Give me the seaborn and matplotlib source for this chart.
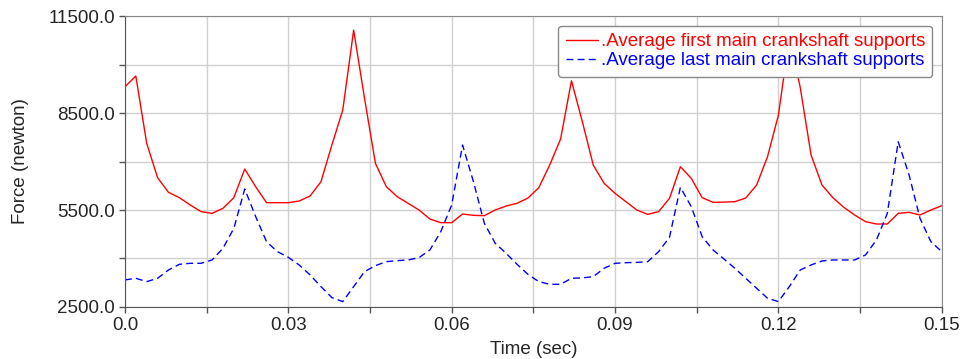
import numpy as np
import pandas as pd
import matplotlib
matplotlib.use("Agg")
import matplotlib.pyplot as plt
import seaborn as sns
from matplotlib.ticker import FixedLocator, FormatStrFormatter

# time samples (sec), every 0.002 s
time_sec = np.round(np.arange(76) * 0.002, 3)

first_support = [
    9314, 9645, 7562, 6500, 6047, 5882, 5655, 5449, 5397, 5552,
    5882, 6768, 6222, 5727, 5727, 5727, 5779, 5933, 6376, 7511,
    8593, 11068, 8955, 6944, 6222, 5912, 5707, 5500, 5222, 5108,
    5108, 5376, 5335, 5325, 5500, 5624, 5707, 5870, 6191, 6892,
    7696, 9500, 8232, 6892, 6325, 6016, 5758, 5500, 5366, 5450,
    5861, 6840, 6479, 5882, 5737, 5745, 5758, 5871, 6273, 7149,
    8439, 10850, 9300, 7201, 6273, 5882, 5583, 5346, 5139, 5067,
    5067, 5397, 5428, 5346, 5500, 5634,
]

last_support = [
    3335, 3387, 3283, 3387, 3644, 3820, 3851, 3851, 3954, 4315,
    4933, 6150, 5300, 4520, 4212, 4036, 3799, 3490, 3129, 2789,
    2665, 3129, 3593, 3778, 3902, 3933, 3954, 4026, 4263, 4830,
    5655, 7511, 6376, 5088, 4469, 4160, 3820, 3510, 3283, 3201,
    3201, 3387, 3400, 3438, 3697, 3850, 3870, 3880, 3900, 4211,
    4656, 6202, 5604, 4675, 4263, 3985, 3697, 3387, 3078, 2769,
    2665, 3129, 3644, 3799, 3923, 3954, 3954, 3954, 4108, 4572,
    5398, 7613, 6583, 5243, 4520, 4211,
]

x_ticks = [0.0, 0.03, 0.06, 0.09, 0.12, 0.15]
x_tick_labels = ["0.0", "0.03", "0.06", "0.09", "0.12", "0.15"]
x_minor = [0.015, 0.045, 0.075, 0.105, 0.135]
y_ticks = [2500, 5500, 8500, 11500]
y_minor = [4000, 7000, 10000]

label_first = ".Average first main crankshaft supports"
label_last = ".Average last main crankshaft supports"

df = pd.DataFrame({
    "time": np.concatenate([time_sec, time_sec]),
    "force": first_support + last_support,
    "series": [label_first] * len(time_sec) + [label_last] * len(time_sec),
})

sns.set_style("whitegrid")
plt.rcParams['font.family'] = ['Liberation Sans', 'DejaVu Sans']

fig = plt.figure(figsize=(9.61, 3.59), dpi=100)
ax = fig.add_axes([0.130, 0.145, 0.850, 0.810])

sns.lineplot(data=df, x="time", y="force", hue="series", style="series",
             palette={label_first: "red", label_last: "blue"},
             dashes={label_first: "", label_last: (5, 3)},
             linewidth=1.0, ax=ax, legend=False)

ax.set_xlim(0, 0.15)
ax.set_ylim(2500, 11500)
ax.set_xticks(x_ticks)
ax.set_xticklabels(x_tick_labels)
ax.xaxis.set_minor_locator(FixedLocator(x_minor))
ax.set_yticks(y_ticks)
ax.yaxis.set_major_formatter(FormatStrFormatter('%.1f'))
ax.yaxis.set_minor_locator(FixedLocator(y_minor))

ax.grid(True, which="both", color="#d0d0d0", linewidth=1.0)
ax.tick_params(which="both", direction="out", length=4, width=1,
               color="#555555", labelsize=13.5, pad=3,
               bottom=True, left=True)
ax.tick_params(which="minor", labelleft=False, labelbottom=False)

for side in ["left", "bottom"]:
    ax.spines[side].set_color("#555555")
for side in ["top", "right"]:
    ax.spines[side].set_color("#888888")

ax.set_xlabel("Time (sec)", fontsize=13.5, labelpad=5)
ax.set_ylabel("Force (newton)", fontsize=13.5, labelpad=14)

lines = ax.get_lines()
ax.legend(lines[:2], [label_first, label_last], loc="upper right",
          fontsize=13.5, labelcolor="linecolor", frameon=True,
          edgecolor="#888888", framealpha=1, fancybox=True,
          borderaxespad=0.5, handlelength=1.7, handletextpad=0.15,
          labelspacing=0.1, borderpad=0.4)

fig.savefig("out.png", dpi=100)
